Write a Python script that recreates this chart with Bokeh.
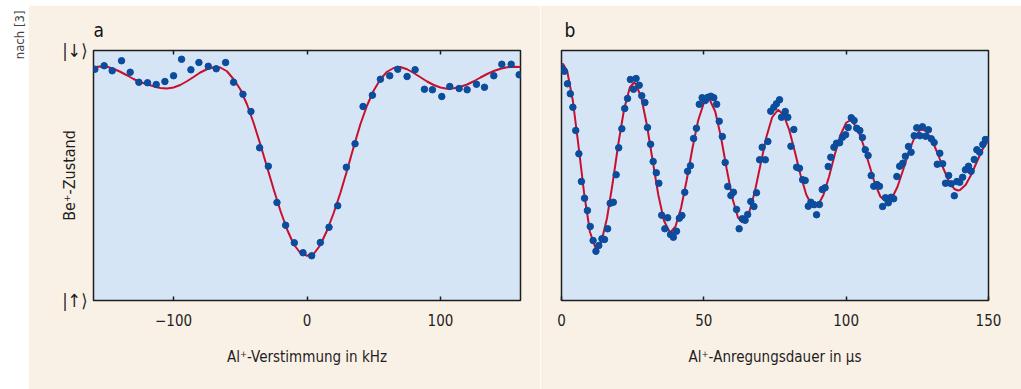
from bokeh.plotting import figure
from bokeh.models import Range1d, FixedTicker, LinearAxis, CustomLabelingPolicy, Spacer
from bokeh.layouts import row, column
from bokeh.embed import file_html
from bokeh.resources import INLINE

# ---------------- data ----------------
# panel a: Al+ detuning (kHz) vs Be+ state
det_khz = [-159, -152, -146, -139, -132.5, -126, -119.5, -113, -106.5, -100,
           -94, -87, -81, -74, -68, -61, -55, -48, -42, -35.5,
           -29, -22.5, -16, -9.5, -3, 3.5, 10, 16.5, 23, 29.5,
           36, 42, 49, 55, 62, 68, 75, 81, 88, 94,
           101, 107, 114, 120, 127, 133, 140, 146, 153, 159]
det_state = [0.925, 0.939, 0.919, 0.959, 0.913, 0.873, 0.871, 0.864, 0.876, 0.899,
             0.965, 0.923, 0.952, 0.937, 0.927, 0.952, 0.873, 0.825, 0.756, 0.611,
             0.537, 0.392, 0.301, 0.231, 0.191, 0.179, 0.232, 0.293, 0.379, 0.533,
             0.627, 0.776, 0.821, 0.885, 0.899, 0.925, 0.896, 0.923, 0.845, 0.843,
             0.816, 0.856, 0.848, 0.843, 0.865, 0.853, 0.899, 0.945, 0.945, 0.903]

fit_a_x = [-160, -155, -150, -145, -140, -135, -130, -125, -120, -115, -110, -105,
           -100, -95, -90, -85, -80, -75, -70, -65, -60, -55, -50, -45, -40, -35,
           -30, -25, -20, -15, -10, -5, 0, 5, 10, 15, 20, 25, 30, 35, 40, 45, 50,
           55, 60, 65, 70, 75, 80, 85, 90, 95, 100, 105, 110, 115, 120, 125, 130,
           135, 140, 145, 150, 155, 160]
fit_a_y = [0.933, 0.936, 0.935, 0.927, 0.915, 0.901, 0.886, 0.874, 0.865, 0.857, 0.850, 0.848,
           0.852, 0.862, 0.877, 0.894, 0.912, 0.925, 0.933, 0.932, 0.917, 0.885, 0.845, 0.785, 0.710, 0.625,
           0.535, 0.445, 0.360, 0.285, 0.225, 0.190, 0.179, 0.186, 0.222, 0.280, 0.350, 0.430, 0.520, 0.615, 0.705, 0.780, 0.840,
           0.885, 0.915, 0.930, 0.934, 0.925, 0.910, 0.893, 0.876, 0.862, 0.852, 0.847, 0.849, 0.855, 0.864, 0.877, 0.892,
           0.906, 0.918, 0.927, 0.933, 0.935, 0.934]

# panel b: Al+ excitation duration (us) vs Be+ state
dur_us = [0.0, 1.0, 2.1, 3.1, 4.0, 5.0, 6.1, 7.0, 8.1, 9.1,
          10.1, 11.1, 12.1, 13.1, 14.2, 15.1, 16.2, 17.1, 18.2, 19.2,
          20.1, 21.2, 22.2, 23.2, 24.2, 25.3, 26.2, 27.3, 28.2, 29.3,
          30.2, 31.3, 32.2, 33.3, 34.2, 35.2, 36.3, 37.3, 38.3,
          39.3, 40.4, 41.4, 42.3, 43.3, 44.3, 45.3, 46.4, 47.4, 48.4,
          49.4, 50.5, 51.4, 52.5, 53.5, 54.5, 55.4, 56.5, 57.5, 58.4,
          59.5, 60.4, 61.5, 62.4, 63.5, 64.5, 65.4, 66.5, 67.6, 68.5,
          69.6, 70.5, 71.6, 72.5, 73.5, 74.6, 75.5, 76.6, 77.3,
          78.6, 79.5, 80.6, 81.6, 82.6, 83.6, 84.7, 85.6, 86.7, 87.6,
          88.6, 89.6, 90.6, 91.6, 92.6, 93.7, 94.6, 95.7, 96.6, 97.7,
          98.7, 99.8, 100.7, 101.8, 102.8, 103.7, 104.8, 105.7, 106.7, 107.7,
          108.8, 109.7, 110.8, 111.7, 112.8, 113.8, 114.8, 115.8,
          116.7, 117.8, 118.8, 119.9, 120.8, 121.9, 122.8, 123.9, 124.8, 125.9,
          126.8, 127.9, 128.9, 129.9, 130.9, 132.0, 132.9, 133.9, 134.9, 136.0,
          136.9, 138.0, 138.9, 139.9, 140.9, 141.9, 143.0, 143.9, 145.0, 145.9,
          146.9, 148.0, 148.9, 150.0]
dur_state = [0.931, 0.917, 0.867, 0.827, 0.773, 0.680, 0.587, 0.476, 0.409, 0.360,
             0.296, 0.240, 0.197, 0.220, 0.247, 0.244, 0.287, 0.389, 0.393, 0.503,
             0.611, 0.687, 0.768, 0.808, 0.884, 0.845, 0.888, 0.861, 0.819, 0.792,
             0.692, 0.625, 0.556, 0.511, 0.469, 0.341, 0.287, 0.331, 0.264,
             0.253, 0.277, 0.329, 0.340, 0.433, 0.517, 0.539, 0.648, 0.689, 0.785,
             0.811, 0.800, 0.813, 0.817, 0.811, 0.785, 0.717, 0.656, 0.552, 0.456,
             0.420, 0.433, 0.364, 0.287, 0.327, 0.321, 0.344, 0.396, 0.376, 0.431,
             0.563, 0.613, 0.563, 0.636, 0.757, 0.773, 0.787, 0.803, 0.733,
             0.756, 0.733, 0.617, 0.684, 0.533, 0.529, 0.483, 0.480, 0.377, 0.393,
             0.384, 0.343, 0.384, 0.444, 0.451, 0.536, 0.573, 0.613, 0.629, 0.631,
             0.653, 0.663, 0.692, 0.731, 0.720, 0.689, 0.680, 0.652, 0.603, 0.580,
             0.500, 0.457, 0.464, 0.457, 0.376, 0.411, 0.391, 0.413,
             0.407, 0.496, 0.537, 0.549, 0.577, 0.616, 0.593, 0.659, 0.691, 0.659,
             0.695, 0.657, 0.683, 0.647, 0.632, 0.545, 0.589, 0.547, 0.469, 0.500,
             0.467, 0.419, 0.476, 0.473, 0.493, 0.523, 0.537, 0.517, 0.564, 0.603,
             0.593, 0.624, 0.644, 0.643]

fit_b_x = [0, 0.5, 2, 4, 6, 8, 10, 12, 12.3, 14, 16, 18, 20, 22, 24, 25.4, 26, 28, 30,
           32, 34, 36, 38, 38.3, 40, 42, 44, 46, 48, 50, 51.5, 52, 54, 56, 58, 60, 62,
           63.5, 64, 66, 68, 70, 72, 74, 76.1, 78, 80, 82, 84, 86, 88, 89, 90, 92, 94,
           96, 98, 100, 101.3, 102, 104, 106, 108, 110, 112, 114.2, 116, 118, 120, 122,
           124, 126, 126.7, 128, 130, 132, 134, 136, 138, 139.3, 140, 142, 144, 146, 148, 150]
fit_b_y = [0.940, 0.947, 0.918, 0.798, 0.616, 0.424, 0.274, 0.208, 0.207, 0.234, 0.330, 0.472, 0.629, 0.766, 0.852, 0.871, 0.868, 0.813, 0.702,
           0.561, 0.423, 0.319, 0.274, 0.273, 0.295, 0.370, 0.483, 0.609, 0.720, 0.790, 0.807, 0.805, 0.756, 0.655, 0.528, 0.410, 0.332,
           0.313, 0.315, 0.355, 0.440, 0.549, 0.655, 0.733, 0.763, 0.743, 0.682, 0.594, 0.501, 0.423, 0.379, 0.373, 0.379, 0.422, 0.496,
           0.584, 0.662, 0.711, 0.720, 0.718, 0.686, 0.624, 0.547, 0.471, 0.416, 0.393, 0.408, 0.454, 0.522, 0.594,
           0.652, 0.682, 0.684, 0.678, 0.645, 0.592, 0.532, 0.479, 0.446, 0.440, 0.442, 0.463, 0.505, 0.557, 0.607, 0.642]

ticks_a = [-100, 0, 100]
ticks_b = [0, 50, 100, 150]
state_ticks = [0, 1]
state_labels = ["|\u2191\u27e9", "|\u2193\u27e9"]

# ---------------- style ----------------
FONT = "'Liberation Sans Narrow', 'DejaVu Sans Condensed', Roboto, sans-serif"
CREAM = "#faf1e6"
BLUE = "#d5e5f5"
DOT = "#0b4c9c"
RED = "#c8102e"
INK = "#1e1e1e"
H = 384
TOP = 45
BOTTOM = 89


def style_bottom(ax, ticks, labels, label):
    ax.ticker = FixedTicker(ticks=ticks)
    ax.major_label_overrides = labels
    ax.major_tick_in = 4
    ax.major_tick_out = 0
    ax.major_tick_line_color = INK
    ax.major_tick_line_width = 1.5
    ax.minor_tick_line_color = None
    ax.axis_line_color = None
    ax.major_label_standoff = 13
    ax.major_label_text_font = FONT
    ax.major_label_text_font_size = "15px"
    ax.major_label_text_color = INK
    ax.axis_label = label
    ax.axis_label_text_font = FONT
    ax.axis_label_text_font_size = "15px"
    ax.axis_label_text_font_style = "normal"
    ax.axis_label_text_color = INK
    ax.axis_label_standoff = 19


def top_axis(ticks):
    ax = LinearAxis(ticker=FixedTicker(ticks=ticks))
    ax.major_tick_in = 4
    ax.major_tick_out = 0
    ax.major_tick_line_color = INK
    ax.major_tick_line_width = 1.5
    ax.minor_tick_line_color = None
    ax.axis_line_color = None
    ax.major_label_standoff = 0
    ax.major_label_policy = CustomLabelingPolicy(
        code="for (const i of indices) indices.unset(i); return indices")
    return ax


def base_fig(width, xr, left, right, ylocation, letter, offset):
    p = figure(width=width, height=H, x_range=xr, y_range=Range1d(0, 1),
               output_backend="svg", toolbar_location=None,
               min_border_left=left, min_border_right=right,
               min_border_top=TOP, min_border_bottom=BOTTOM,
               background_fill_color=BLUE, border_fill_color=CREAM,
               outline_line_color=INK, outline_line_width=1.5,
               y_axis_location=ylocation, title=letter)
    p.xgrid.visible = False
    p.ygrid.visible = False
    p.title.align = "left"
    p.title.offset = offset
    p.title.text_font = FONT
    p.title.text_font_size = "19px"
    p.title.text_font_style = "normal"
    p.title.text_color = "#111111"
    p.title.standoff = -3
    return p


# ---------------- side strip ----------------
p0 = figure(width=28, height=H, x_range=Range1d(0, 1), y_range=Range1d(0, 1),
            output_backend="svg", toolbar_location=None, min_border=0,
            min_border_left=26,
            x_axis_location=None, y_axis_location=None,
            background_fill_color="white", border_fill_color="white",
            outline_line_color=None, title="nach [3]", title_location="left")
p0.grid.visible = False
p0.title.align = "right"
p0.title.text_font = FONT
p0.title.text_font_size = "13px"
p0.title.text_font_style = "normal"
p0.title.text_color = "#444444"
p0.title.standoff = 0
p0.title.offset = -40

# ---------------- panel a ----------------
p1 = base_fig(512, Range1d(-160, 160), 65, 20, "left", "a", 0)
style_bottom(p1.xaxis[0], ticks_a,
             {t: (("\u2212" + str(-t)) if t < 0 else str(t)) for t in ticks_a},
             "Al\u207a-Verstimmung in kHz")
p1.add_layout(top_axis(ticks_a), "above")
ya = p1.yaxis[0]
ya.ticker = FixedTicker(ticks=state_ticks)
ya.major_label_overrides = dict(zip(state_ticks, state_labels))
ya.major_tick_in = 0
ya.major_tick_out = 0
ya.minor_tick_line_color = None
ya.axis_line_color = None
ya.major_label_standoff = 6
ya.major_label_text_font = FONT
ya.major_label_text_font_size = "18px"
ya.major_label_text_color = INK
ya.axis_label = "Be\u207a-Zustand"
ya.axis_label_text_font = FONT
ya.axis_label_text_font_size = "16px"
ya.axis_label_text_font_style = "normal"
ya.axis_label_text_color = INK
ya.axis_label_standoff = -20

p1.line(fit_a_x, fit_a_y, line_color=RED, line_width=2)
p1.scatter(det_khz, det_state, size=6.5, fill_color=DOT, line_color=DOT)

# ---------------- panel b ----------------
p2 = base_fig(481, Range1d(0, 150), 21, 33, None, "b", 3)
style_bottom(p2.xaxis[0], ticks_b, {t: str(t) for t in ticks_b},
             "Al\u207a-Anregungsdauer in \u00b5s")
p2.add_layout(top_axis(ticks_b[1:3]), "above")
p2.line(fit_b_x, fit_b_y, line_color=RED, line_width=2)
p2.scatter(dur_us, dur_state, size=6.5, fill_color=DOT, line_color=DOT)

layout = column(Spacer(width=1021, height=5), row(p0, p1, p2))
open("out.html", "w").write(file_html(layout, INLINE))
